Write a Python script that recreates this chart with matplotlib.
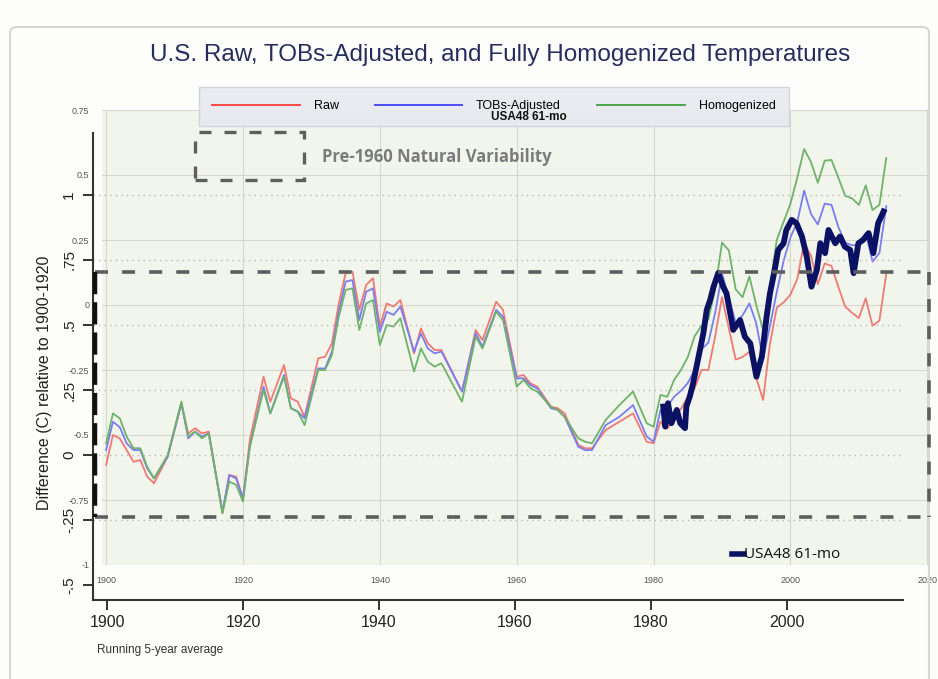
import matplotlib.pyplot as plt
from matplotlib.lines import Line2D
from matplotlib.patches import Rectangle, FancyBboxPatch

plt.rcParams['font.family'] = ['Liberation Sans', 'DejaVu Sans']

# ---- data ----
# inner chart: running 5-year average, difference (C)
years = [1900, 1901, 1902, 1903, 1904, 1905, 1906, 1907, 1909,
         1911, 1912, 1913, 1914, 1915, 1917, 1918, 1919, 1920, 1921,
         1923, 1924, 1926, 1927, 1928, 1929,
         1931, 1932, 1933, 1934, 1935, 1936, 1937, 1938, 1939, 1940, 1941, 1942, 1943,
         1945, 1946, 1947, 1948, 1949, 1952, 1954, 1955, 1957, 1958,
         1960, 1961, 1962, 1963, 1965, 1966, 1967, 1969, 1970, 1971, 1973, 1975, 1977,
         1979, 1980, 1981, 1982, 1983, 1984, 1985, 1986, 1987, 1988, 1989,
         1990, 1991, 1992, 1993, 1994, 1995, 1996, 1997, 1998, 1999,
         2000, 2001, 2002, 2003, 2004, 2005, 2006, 2007, 2008, 2009,
         2010, 2011, 2012, 2013, 2014]

raw = [-0.615, -0.50, -0.513, -0.558, -0.603, -0.596, -0.660, -0.686, -0.583,
       -0.378, -0.494, -0.474, -0.494, -0.487, -0.801, -0.654, -0.660, -0.744, -0.519,
       -0.276, -0.372, -0.231, -0.359, -0.372, -0.430,
       -0.205, -0.199, -0.147, 0.006, 0.122, 0.128, -0.019, 0.077, 0.103, -0.083, 0.006, -0.006, 0.019,
       -0.186, -0.090, -0.147, -0.173, -0.173, -0.333, -0.096, -0.135, 0.013, -0.019,
       -0.276, -0.269, -0.301, -0.314, -0.391, -0.397, -0.417, -0.538, -0.551, -0.551, -0.481, -0.449, -0.417,
       -0.526, -0.532, -0.449, -0.475, -0.436, -0.40, -0.353, -0.32, -0.25, -0.25, -0.12,
       0.03, -0.09, -0.21, -0.20, -0.18, -0.28, -0.365, -0.15, -0.01, 0.01,
       0.04, 0.10, 0.24, 0.19, 0.08, 0.16, 0.15, 0.07, -0.006, -0.03,
       -0.05, 0.026, -0.08, -0.06, 0.12]

tobs = [-0.558, -0.449, -0.47, -0.532, -0.558, -0.558, -0.628, -0.667, -0.583,
        -0.378, -0.513, -0.487, -0.506, -0.494, -0.795, -0.654, -0.667, -0.744, -0.545,
        -0.314, -0.417, -0.269, -0.397, -0.41, -0.436,
        -0.244, -0.244, -0.179, -0.026, 0.09, 0.096, -0.058, 0.051, 0.064, -0.103, -0.026, -0.038, -0.006,
        -0.179, -0.109, -0.167, -0.186, -0.179, -0.333, -0.109, -0.160, -0.019, -0.045,
        -0.282, -0.282, -0.308, -0.321, -0.397, -0.404, -0.43, -0.545, -0.558, -0.558, -0.462, -0.43, -0.385,
        -0.506, -0.526, -0.404, -0.391, -0.353, -0.33, -0.30, -0.25, -0.17, -0.145, -0.03,
        0.12, 0.03, -0.07, -0.04, 0.006, -0.07, -0.21, -0.08, 0.05, 0.17,
        0.26, 0.32, 0.44, 0.35, 0.31, 0.39, 0.385, 0.30, 0.24, 0.23,
        0.23, 0.276, 0.167, 0.20, 0.38]

homog = [-0.532, -0.417, -0.436, -0.506, -0.551, -0.551, -0.622, -0.667, -0.577,
         -0.372, -0.506, -0.487, -0.513, -0.494, -0.801, -0.679, -0.692, -0.756, -0.545,
         -0.327, -0.417, -0.276, -0.397, -0.41, -0.462,
         -0.25, -0.25, -0.192, -0.045, 0.058, 0.064, -0.096, 0.006, 0.019, -0.154, -0.077, -0.083, -0.051,
         -0.256, -0.167, -0.218, -0.237, -0.224, -0.372, -0.122, -0.167, -0.026, -0.058,
         -0.314, -0.288, -0.32, -0.333, -0.391, -0.404, -0.43, -0.513, -0.526, -0.532, -0.442, -0.385, -0.333,
         -0.455, -0.468, -0.346, -0.353, -0.288, -0.25, -0.20, -0.12, -0.08, -0.055, 0.06,
         0.24, 0.21, 0.06, 0.03, 0.11, 0.0, -0.096, 0.07, 0.25, 0.32,
         0.39, 0.49, 0.60, 0.55, 0.47, 0.555, 0.558, 0.49, 0.42, 0.41,
         0.385, 0.46, 0.365, 0.385, 0.565]

# overlaid chart: USA48 61-month running mean
usa48_years = [1981.8, 1982.1, 1982.5, 1983.0, 1983.8, 1984.3, 1985.0, 1985.2, 1985.7,
               1986.2, 1986.7, 1987.2, 1987.7, 1988.2, 1988.7, 1989.2, 1989.9, 1990.6,
               1991.1, 1992.1, 1993.1, 1993.8, 1994.6, 1995.5, 1996.3, 1997.0, 1997.5,
               1998.2, 1998.7, 1999.5, 1999.9, 2000.7, 2001.4, 2002.2, 2002.9, 2003.6,
               2004.4, 2004.9, 2005.6, 2006.1, 2007.1, 2007.8, 2008.5, 2009.3, 2009.8,
               2010.5, 2011.2, 2012.0, 2012.7, 2013.4, 2014.2]
usa48 = [0.186, 0.109, 0.199, 0.122, 0.173, 0.122, 0.103, 0.186, 0.224,
         0.276, 0.34, 0.404, 0.468, 0.558, 0.596, 0.647, 0.70, 0.647,
         0.622, 0.481, 0.519, 0.455, 0.429, 0.301, 0.378, 0.532, 0.622,
         0.712, 0.788, 0.814, 0.865, 0.904, 0.891, 0.840, 0.763, 0.647,
         0.712, 0.814, 0.776, 0.865, 0.814, 0.840, 0.801, 0.788, 0.699,
         0.814, 0.827, 0.853, 0.776, 0.891, 0.936]

inner_yticks = [-1, -0.75, -0.5, -0.25, 0, 0.25, 0.5, 0.75]
inner_ylabels = ['-1', '-0.75', '-0.5', '-0.25', '0', '0.25', '0.5', '0.75']
inner_xticks = [1900, 1920, 1940, 1960, 1980, 2000, 2020]
outer_yticks = [-0.5, -0.25, 0, 0.25, 0.5, 0.75, 1]
outer_ylabels = ['-.5', '-.25', '0', '.25', '.5', '.75', '1']
outer_xticks = [1900, 1920, 1940, 1960, 1980, 2000]

W, H = 938, 679


def fx(px):
    return px / W


def fy(py):
    return 1 - py / H


fig = plt.figure(figsize=(9.38, 6.79), dpi=100)
fig.patch.set_facecolor('#fdfdfb')

# inner chart
ax_in = fig.add_axes([fx(102), fy(565), fx(928) - fx(102), fy(110) - fy(565)])
ax_in.set_facecolor('#f2f5ec')
ax_in.plot(years, raw, color='#f07a72', lw=1.3)
ax_in.plot(years, tobs, color='#7a7cf0', lw=1.3)
ax_in.plot(years, homog, color='#6db36a', lw=1.3)
ax_in.set_xlim(1899.4, 2020.1)
ax_in.set_ylim(-1, 0.75)
ax_in.set_yticks(inner_yticks)
ax_in.set_yticklabels(inner_ylabels)
ax_in.set_xticks(inner_xticks)
ax_in.grid(color='#d6d8d0', lw=0.8)
ax_in.tick_params(length=0, labelsize=6.5, colors='#555555')
ax_in.tick_params(axis='y', pad=9)
ax_in.tick_params(axis='x', pad=8)
for s in ax_in.spines.values():
    s.set_visible(False)

# overlaid chart
ax_out = fig.add_axes([fx(93), fy(600), fx(903) - fx(93), fy(133) - fy(600)])
ax_out.patch.set_alpha(0)
ax_out.plot(usa48_years, usa48, color='#0b1163', lw=4.2, solid_joinstyle='round')
ax_out.set_xlim(1897.94, 2017.06)
ax_out.set_ylim(-0.5577, 1.238)
ax_out.set_yticks(outer_yticks)
ax_out.set_yticklabels(outer_ylabels)
ax_out.set_xticks(outer_xticks)
for v in outer_yticks[1:]:
    ax_out.axhline(v, color='#b9b9b0', lw=1.0, ls=(0, (1, 3)), zorder=0)
for s in ['top', 'right']:
    ax_out.spines[s].set_visible(False)
for s in ['left', 'bottom']:
    ax_out.spines[s].set_color('#333333')
    ax_out.spines[s].set_linewidth(1.5)
ax_out.tick_params(axis='y', length=7, width=1.3, labelsize=11, pad=5, labelrotation=90, colors='#222222')
ax_out.tick_params(axis='x', length=7, width=1.3, labelsize=11.5, pad=4, colors='#222222')
for t in ax_out.get_yticklabels():
    t.set_va('center')

# frame around the whole picture
fig.patches.append(FancyBboxPatch((fx(10), fy(690)), fx(929) - fx(10), fy(27) - fy(690),
                                  boxstyle='round,pad=0,rounding_size=0.008',
                                  transform=fig.transFigure, fill=False, ec='#d6d6d6', lw=1.5))

# title and labels
fig.text(fx(500), fy(55), 'U.S. Raw, TOBs-Adjusted, and Fully Homogenized Temperatures',
         fontsize=17.5, color='#262d5e', ha='center', va='center')
fig.text(fx(45), fy(383), 'Difference (C) relative to 1900-1920', rotation=90,
         fontsize=11.5, ha='center', va='center', color='#222222')
fig.text(fx(97), fy(650), 'Running 5-year average', fontsize=8.5, ha='left', va='center', color='#333333')

# legend for the three series
handles = [Line2D([], [], color='#ff4848', lw=1.4),
           Line2D([], [], color='#4b4bff', lw=1.4),
           Line2D([], [], color='#4aa54a', lw=1.4)]
leg = fig.legend(handles, ['Raw', 'TOBs-Adjusted', 'Homogenized'], ncol=3,
                 loc='upper left', bbox_to_anchor=(fx(193), fy(81)),
                 fontsize=9, handlelength=7, handletextpad=1.1, columnspacing=2.9,
                 borderpad=1.05, fancybox=False, frameon=True)
leg.get_frame().set_facecolor('#e8eaf0')
leg.get_frame().set_edgecolor('#cfd3dd')
leg.get_frame().set_alpha(0.95)

fig.text(fx(529), fy(117), 'USA48 61-mo', fontweight='bold', fontsize=8.5,
         ha='center', va='center', color='#111111', zorder=6)

# dashed boxes
gray = '#5e5e5e'
dash = (0, (3.6, 3.9))
for (x0, y0, x1, y1) in [(95, 271.5, 929, 271.5), (95, 516.5, 929, 516.5), (929, 271.5, 929, 516.5)]:
    fig.add_artist(Line2D([fx(x0), fx(x1)], [fy(y0), fy(y1)], transform=fig.transFigure,
                          color=gray, lw=2.6, ls=dash, zorder=4))
fig.add_artist(Line2D([fx(95), fx(95)], [fy(271.5), fy(516.5)], transform=fig.transFigure,
                      color='#111111', lw=3.2, ls=(0, (5, 1.8)), zorder=4))
fig.add_artist(Rectangle((fx(195), fy(180)), fx(304) - fx(195), fy(132) - fy(180),
                         transform=fig.transFigure, fill=False, ec=gray, lw=2.4,
                         ls=(0, (3.6, 3.9)), zorder=4))
fig.text(fx(322), fy(157), 'Pre-1960 Natural Variability', family=['Open Sans', 'DejaVu Sans'],
         fontweight='bold', fontsize=12, color='#7b7b7b', ha='left', va='center')

# legend for the overlaid series
fig.add_artist(Line2D([fx(732), fx(744)], [fy(554), fy(554)], transform=fig.transFigure,
                      color='#0b1163', lw=4))
fig.text(fx(744), fy(554), 'USA48 61-mo', family=['Open Sans', 'DejaVu Sans'],
         fontsize=11, ha='left', va='center', color='#111111')

fig.savefig('out.png', dpi=100, facecolor=fig.get_facecolor())
